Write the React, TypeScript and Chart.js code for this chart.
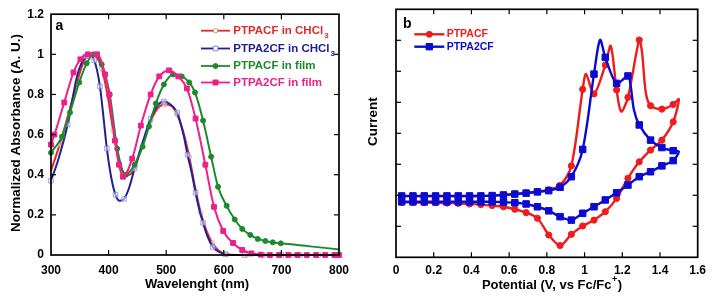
import React, { useEffect, useRef } from "react";
import { Chart, registerables } from "chart.js";

Chart.register(...registerables);

const FONT = "'Liberation Sans', Arial, Helvetica, sans-serif";

// ---------------- Panel a: normalized absorbance ----------------
const seriesNamesA = ["PTPACF in CHCl", "PTPA2CF in CHCl", "PTPACF in film", "PTPA2CF in film"];
const seriesSubA = ["3", "3", "", ""];

const wlRedSol = [300, 315, 330, 345, 358, 368, 378, 388, 398, 408, 418, 428, 436, 446, 458, 472, 485, 497, 508, 519, 530, 540, 550, 560, 570, 580, 592, 605, 620, 640, 660, 680, 700, 720, 740, 760, 780, 800];
const absRedSol = [0.42, 0.55, 0.7, 0.86, 0.97, 1.0, 0.99, 0.93, 0.8, 0.62, 0.47, 0.4, 0.4, 0.44, 0.54, 0.66, 0.73, 0.75, 0.745, 0.7, 0.61, 0.49, 0.34, 0.21, 0.12, 0.06, 0.02, 0.005, 0, 0, 0, 0, 0, 0, 0, 0, 0, 0];

const wlBlueSol = [300, 312, 329, 346, 360, 367, 375, 380, 385, 391, 397, 405, 412, 419, 427, 435, 445, 460, 473, 485, 496, 505, 519, 530, 537, 545, 551, 558, 564, 572, 581, 592, 603, 620, 636, 652, 668, 684, 700, 716, 732, 748, 764, 780, 796];
const absBlueSol = [0.37, 0.47, 0.65, 0.9, 0.99, 1.0, 0.97, 0.92, 0.84, 0.69, 0.53, 0.38, 0.3, 0.27, 0.28, 0.33, 0.43, 0.57, 0.68, 0.745, 0.765, 0.755, 0.71, 0.6, 0.5, 0.4, 0.31, 0.22, 0.16, 0.09, 0.04, 0.015, 0.003, 0, 0, 0, 0, 0, 0, 0, 0, 0, 0, 0, 0];

const wlGreenFilm = [300, 319, 333, 349, 362, 374, 388, 402, 415, 430, 445, 459, 470, 482, 496, 512, 527, 540, 550, 564, 578, 590, 605, 619, 632, 646, 659, 672, 685, 699, 750, 800];
const absGreenFilm = [0.51, 0.59, 0.71, 0.86, 0.955, 1.0, 0.95, 0.8, 0.53, 0.4, 0.45, 0.54, 0.64, 0.755, 0.85, 0.9, 0.89, 0.86, 0.81, 0.67, 0.49, 0.34, 0.245, 0.177, 0.13, 0.1, 0.08, 0.07, 0.063, 0.058, 0.043, 0.028];

const wlPinkFilm = [300, 306, 323, 339, 351, 364, 380, 394, 401, 411, 418, 425, 441, 456, 473, 488, 505, 521, 536, 551, 568, 583, 599, 616, 632, 648, 664, 680, 696, 712, 728, 744, 760, 776, 792, 800];
const absPinkFilm = [0.55, 0.6, 0.76, 0.91, 0.975, 1.0, 1.0, 0.9, 0.8, 0.57, 0.45, 0.39, 0.48, 0.645, 0.8, 0.89, 0.92, 0.89, 0.83, 0.68, 0.45, 0.24, 0.12, 0.06, 0.025, 0.008, 0.002, 0, 0, 0, 0, 0, 0, 0, 0, 0];

const xTicksA = [300, 400, 500, 600, 700, 800];
const yTicksA = [0, 0.2, 0.4, 0.6, 0.8, 1, 1.2];

// ---------------- Panel b: cyclic voltammetry ----------------
const seriesNamesB = ["PTPACF", "PTPA2CF"];

const cvRedV = [
  0.03, 0.09, 0.15, 0.21, 0.27, 0.33, 0.39, 0.45, 0.51, 0.57, 0.63, 0.69, 0.75, 0.81, 0.87, 0.93, 0.99, 1.008, 1.05, 1.11, 1.139, 1.17, 1.194, 1.23, 1.29, 1.305, 1.325, 1.35, 1.41, 1.47, 1.5,
  1.47, 1.41, 1.35, 1.29, 1.23, 1.17, 1.11, 1.05, 0.99, 0.93, 0.87, 0.81, 0.75, 0.69, 0.63, 0.57, 0.51, 0.45, 0.39, 0.33, 0.27, 0.21, 0.15, 0.09, 0.03,
];
const cvRedI = [
  1.97, 1.97, 1.97, 1.97, 1.97, 1.97, 1.97, 1.98, 1.99, 2.01, 2.04, 2.08, 2.12, 2.18, 2.32, 2.95, 5.42, 5.91, 5.27, 6.2, 6.82, 5.4, 4.7, 5.16, 7.01, 6.6, 5.3, 4.89, 4.78, 4.93, 5.1,
  4.37, 3.78, 3.46, 3.08, 2.55, 1.9, 1.47, 1.2, 1.01, 0.74, 0.38, 0.72, 1.26, 1.44, 1.55, 1.63, 1.67, 1.7, 1.72, 1.74, 1.75, 1.76, 1.76, 1.77, 1.77,
];

const cvBlueV = [
  0.03, 0.09, 0.15, 0.21, 0.27, 0.33, 0.39, 0.45, 0.51, 0.57, 0.63, 0.69, 0.75, 0.81, 0.87, 0.93, 0.99, 1.05, 1.082, 1.11, 1.17, 1.23, 1.245, 1.262, 1.29, 1.35, 1.41, 1.47, 1.5,
  1.47, 1.41, 1.35, 1.29, 1.23, 1.17, 1.11, 1.05, 0.99, 0.93, 0.87, 0.81, 0.75, 0.69, 0.63, 0.57, 0.51, 0.45, 0.39, 0.33, 0.27, 0.21, 0.15, 0.09, 0.03,
];
const cvBlueI = [
  1.98, 1.98, 1.98, 1.98, 1.98, 1.98, 1.98, 1.98, 1.99, 2.01, 2.04, 2.07, 2.11, 2.15, 2.26, 2.6, 3.48, 5.91, 7.01, 6.45, 5.61, 5.85, 5.5, 4.75, 4.27, 3.78, 3.54, 3.44, 3.41,
  3.12, 2.95, 2.76, 2.6, 2.33, 2.08, 1.85, 1.63, 1.42, 1.2, 1.31, 1.5, 1.63, 1.72, 1.76, 1.78, 1.79, 1.79, 1.79, 1.79, 1.79, 1.79, 1.79, 1.79, 1.79,
];

const xTicksB = [0, 0.2, 0.4, 0.6, 0.8, 1, 1.2, 1.4, 1.6];
const yTicksB = [0, 1, 2, 3, 4, 5, 6, 7, 8];

// ---------------- colours ----------------
const RED_A = "#e02a2a";
const BLUE_A = "#20209a";
const GREEN_A = "#1c8a2c";
const PINK_A = "#ee1f86";
const RED_B = "#ee1c1c";
const BLUE_B = "#0b0bd0";

type Pt = { x: number; y: number };
const zip = (xs: number[], ys: number[]): Pt[] => xs.map((x, i) => ({ x, y: ys[i] }));
const fmt = (v: number) => String(Math.round(v * 10) / 10);

function seg(ctx: CanvasRenderingContext2D, x1: number, y1: number, x2: number, y2: number) {
  ctx.beginPath();
  ctx.moveTo(x1, y1);
  ctx.lineTo(x2, y2);
  ctx.stroke();
}

function marker(ctx: CanvasRenderingContext2D, style: string, x: number, y: number, r: number, color: string, fill: string) {
  ctx.save();
  ctx.lineWidth = 1;
  ctx.strokeStyle = color;
  ctx.fillStyle = fill;
  ctx.beginPath();
  if (style === "circle") ctx.arc(x, y, r, 0, Math.PI * 2);
  else ctx.rect(x - r, y - r, 2 * r, 2 * r);
  ctx.fill();
  ctx.stroke();
  ctx.restore();
}

const framePlugin = {
  id: "frameTicks",
  afterDatasetsDraw(chart: any) {
    const { ctx, chartArea: a } = chart;
    const xs = chart.scales.x;
    const ys = chart.scales.y;
    ctx.save();
    ctx.strokeStyle = "#000";
    ctx.lineWidth = 1.2;
    const L = 5;
    xs.ticks.forEach((t: any) => {
      const p = xs.getPixelForValue(t.value);
      if (p > a.left + 1 && p < a.right - 1) {
        seg(ctx, p, a.bottom, p, a.bottom - L);
        seg(ctx, p, a.top, p, a.top + L);
      }
    });
    ys.ticks.forEach((t: any) => {
      const p = ys.getPixelForValue(t.value);
      if (p > a.top + 1 && p < a.bottom - 1) {
        seg(ctx, a.left, p, a.left + L, p);
        seg(ctx, a.right, p, a.right - L, p);
      }
    });
    ctx.lineWidth = 1.7;
    ctx.strokeRect(a.left, a.top, a.right - a.left, a.bottom - a.top);
    ctx.restore();
  },
};

const decorA = {
  id: "decorA",
  afterDraw(chart: any) {
    const ctx: CanvasRenderingContext2D = chart.ctx;
    ctx.save();
    ctx.fillStyle = "#000";
    ctx.font = `bold 14px ${FONT}`;
    ctx.textAlign = "left";
    ctx.textBaseline = "alphabetic";
    ctx.fillText("a", 55.5, 30);

    ctx.font = `bold 13px ${FONT}`;
    ctx.textAlign = "center";
    ctx.textBaseline = "middle";
    ctx.fillText("Wavelenght (nm)", 197, 284);

    ctx.save();
    ctx.translate(16.7, 133);
    ctx.rotate(-Math.PI / 2);
    ctx.font = `bold 13.5px ${FONT}`;
    ctx.fillText("Normalized Absorbance (A. U.)", 0, 0);
    ctx.restore();

    const colors = [RED_A, BLUE_A, GREEN_A, PINK_A];
    const mcolors = ["rgba(235,110,110,0.8)", "rgba(110,110,220,0.8)", GREEN_A, PINK_A];
    const fills = ["#fff", "#fff", GREEN_A, PINK_A];
    const styles = ["circle", "rect", "circle", "rect"];
    const radii = [2.2, 2.3, 2.5, 2.5];
    const ys = [30.7, 48.5, 66, 82.5];
    seriesNamesA.forEach((name, i) => {
      const y = ys[i];
      ctx.strokeStyle = colors[i];
      ctx.lineWidth = 1.8;
      seg(ctx, 201, y, 230, y);
      marker(ctx, styles[i], 215.5, y, radii[i], mcolors[i], fills[i]);
      ctx.fillStyle = colors[i];
      ctx.font = `bold 11.5px ${FONT}`;
      ctx.textAlign = "left";
      ctx.textBaseline = "middle";
      ctx.fillText(name, 233.3, y);
      if (seriesSubA[i]) {
        const w = ctx.measureText(name).width;
        ctx.font = `bold 8px ${FONT}`;
        ctx.fillText(seriesSubA[i], 233.3 + w + 1, y + 5);
      }
    });
    ctx.restore();
  },
};

const decorB = {
  id: "decorB",
  afterDraw(chart: any) {
    const ctx: CanvasRenderingContext2D = chart.ctx;
    ctx.save();
    ctx.fillStyle = "#000";
    ctx.font = `bold 14px ${FONT}`;
    ctx.textAlign = "left";
    ctx.textBaseline = "alphabetic";
    ctx.fillText("b", 46, 27.5);

    const main = "Potential (V, vs Fc/Fc";
    ctx.font = `bold 13px ${FONT}`;
    const w1 = ctx.measureText(main).width;
    ctx.font = `bold 9px ${FONT}`;
    const w2 = ctx.measureText("+").width;
    ctx.font = `bold 13px ${FONT}`;
    const w3 = ctx.measureText(")").width;
    const total = w1 + w2 + w3 + 1;
    const x0 = 195 - total / 2;
    ctx.textBaseline = "middle";
    ctx.fillText(main, x0, 285);
    ctx.font = `bold 9px ${FONT}`;
    ctx.fillText("+", x0 + w1 + 0.5, 280);
    ctx.font = `bold 13px ${FONT}`;
    ctx.fillText(")", x0 + w1 + w2 + 1, 285);

    ctx.save();
    ctx.translate(16.3, 121.7);
    ctx.rotate(-Math.PI / 2);
    ctx.font = `bold 13.5px ${FONT}`;
    ctx.textAlign = "center";
    ctx.fillText("Current", 0, 0);
    ctx.restore();

    const colors = [RED_B, BLUE_B];
    const styles = ["circle", "rect"];
    const radii = [3, 3.2];
    const ys = [34.3, 46.7];
    seriesNamesB.forEach((name, i) => {
      const y = ys[i];
      ctx.strokeStyle = colors[i];
      ctx.lineWidth = 2.4;
      seg(ctx, 57.3, y, 87.3, y);
      marker(ctx, styles[i], 72.3, y, radii[i], colors[i], colors[i]);
      ctx.fillStyle = colors[i];
      ctx.font = `bold 10.5px ${FONT}`;
      ctx.textAlign = "left";
      ctx.textBaseline = "middle";
      ctx.fillText(name, 89.7, y);
    });
    ctx.restore();
  },
};

const isGridV = (v: number) => {
  const k = (v - 0.03) / 0.06;
  return Math.abs(k - Math.round(k)) < 0.02;
};

const tickFont = { family: FONT, size: 12, weight: "bold" as const };

function configA(): any {
  return {
    type: "line",
    data: {
      datasets: [
        {
          label: seriesNamesA[3],
          data: zip(wlPinkFilm, absPinkFilm),
          borderColor: PINK_A,
          backgroundColor: PINK_A,
          pointBackgroundColor: PINK_A,
          pointBorderColor: PINK_A,
          pointStyle: "rect",
          pointRadius: 3.4,
          pointBorderWidth: 1,
          borderWidth: 2,
          cubicInterpolationMode: "monotone",
          clip: false,
          order: 0,
        },
        {
          label: seriesNamesA[2],
          data: zip(wlGreenFilm, absGreenFilm),
          borderColor: GREEN_A,
          backgroundColor: GREEN_A,
          pointBackgroundColor: GREEN_A,
          pointBorderColor: GREEN_A,
          pointStyle: "circle",
          pointRadius: (c: any) => (c.raw && c.raw.x > 700 ? 0 : 2.5),
          pointBorderWidth: 1,
          borderWidth: 2,
          cubicInterpolationMode: "monotone",
          clip: false,
          order: 1,
        },
        {
          label: seriesNamesA[1],
          data: zip(wlBlueSol, absBlueSol),
          borderColor: BLUE_A,
          backgroundColor: BLUE_A,
          pointBackgroundColor: "rgba(255,255,255,0.5)",
          pointBorderColor: "rgba(120,120,225,0.7)",
          pointStyle: "rect",
          pointRadius: (c: any) => (c.dataIndex % 2 === 0 ? 3.2 : 0),
          pointBorderWidth: 1,
          borderWidth: 2,
          cubicInterpolationMode: "monotone",
          clip: false,
          order: 2,
        },
        {
          label: seriesNamesA[0],
          data: zip(wlRedSol, absRedSol),
          borderColor: RED_A,
          backgroundColor: RED_A,
          pointBackgroundColor: "rgba(255,255,255,0.5)",
          pointBorderColor: "rgba(240,130,130,0.7)",
          pointStyle: "circle",
          pointRadius: (c: any) => (c.dataIndex % 2 === 1 ? 2.2 : 0),
          pointBorderWidth: 1,
          borderWidth: 2,
          cubicInterpolationMode: "monotone",
          clip: false,
          order: 3,
        },
      ],
    },
    options: {
      responsive: false,
      animation: false,
      events: [],
      layout: { padding: { top: 13, right: 12, left: 0, bottom: 0 } },
      plugins: { legend: { display: false }, tooltip: { enabled: false } },
      scales: {
        x: {
          type: "linear",
          min: 300,
          max: 800,
          afterBuildTicks: (s: any) => {
            s.ticks = xTicksA.map((v) => ({ value: v }));
          },
          ticks: { font: tickFont, color: "#000", padding: 8, maxRotation: 0, autoSkip: false, callback: (v: any) => fmt(Number(v)) },
          grid: { display: false, drawTicks: false },
          border: { display: false },
          afterFit: (s: any) => {
            s.height = 46;
          },
        },
        y: {
          type: "linear",
          min: 0,
          max: 1.2,
          afterBuildTicks: (s: any) => {
            s.ticks = yTicksA.map((v) => ({ value: v }));
          },
          ticks: { font: tickFont, color: "#000", padding: 7, autoSkip: false, callback: (v: any) => fmt(Number(v)) },
          grid: { display: false, drawTicks: false },
          border: { display: false },
          afterFit: (s: any) => {
            s.width = 51;
          },
        },
      },
    },
    plugins: [framePlugin, decorA],
  };
}

function configB(): any {
  return {
    type: "line",
    data: {
      datasets: [
        {
          label: seriesNamesB[1],
          data: zip(cvBlueV, cvBlueI),
          borderColor: BLUE_B,
          backgroundColor: BLUE_B,
          pointBackgroundColor: BLUE_B,
          pointBorderColor: BLUE_B,
          pointStyle: "rect",
          pointRadius: (c: any) => (c.raw && isGridV(c.raw.x) ? 4.6 : 0),
          pointBorderWidth: 1,
          borderWidth: 2.4,
          tension: 0.3,
          clip: false,
          order: 0,
        },
        {
          label: seriesNamesB[0],
          data: zip(cvRedV, cvRedI),
          borderColor: RED_B,
          backgroundColor: RED_B,
          pointBackgroundColor: RED_B,
          pointBorderColor: RED_B,
          pointStyle: "circle",
          pointRadius: (c: any) => (c.raw && isGridV(c.raw.x) ? 3.1 : 0),
          pointBorderWidth: 1,
          borderWidth: 2.4,
          tension: 0.3,
          clip: false,
          order: 1,
        },
      ],
    },
    options: {
      responsive: false,
      animation: false,
      events: [],
      layout: { padding: { top: 9.3, right: 16.3, left: 0, bottom: 0 } },
      plugins: { legend: { display: false }, tooltip: { enabled: false } },
      scales: {
        x: {
          type: "linear",
          min: 0,
          max: 1.6,
          afterBuildTicks: (s: any) => {
            s.ticks = xTicksB.map((v) => ({ value: v }));
          },
          ticks: { font: tickFont, color: "#000", padding: 6, maxRotation: 0, autoSkip: false, callback: (v: any) => fmt(Number(v)) },
          grid: { display: false, drawTicks: false },
          border: { display: false },
          afterFit: (s: any) => {
            s.height = 43.7;
          },
        },
        y: {
          type: "linear",
          min: 0,
          max: 8,
          afterBuildTicks: (s: any) => {
            s.ticks = yTicksB.map((v) => ({ value: v }));
          },
          ticks: { display: false },
          grid: { display: false, drawTicks: false },
          border: { display: false },
          afterFit: (s: any) => {
            s.width = 39;
          },
        },
      },
    },
    plugins: [framePlugin, decorB],
  };
}

export default function App() {
  const refA = useRef<HTMLCanvasElement>(null);
  const refB = useRef<HTMLCanvasElement>(null);
  useEffect(() => {
    document.body.style.margin = "0";
    const a = new Chart(refA.current as HTMLCanvasElement, configA());
    const b = new Chart(refB.current as HTMLCanvasElement, configB());
    return () => {
      a.destroy();
      b.destroy();
    };
  }, []);
  return (
    <div style={{ position: "fixed", left: 0, top: 0, width: 714, height: 301, background: "#fff" }}>
      <canvas ref={refA} width={357} height={301} style={{ position: "absolute", left: 0, top: 0, width: 357, height: 301 }} />
      <canvas ref={refB} width={357} height={301} style={{ position: "absolute", left: 357, top: 0, width: 357, height: 301 }} />
    </div>
  );
}
